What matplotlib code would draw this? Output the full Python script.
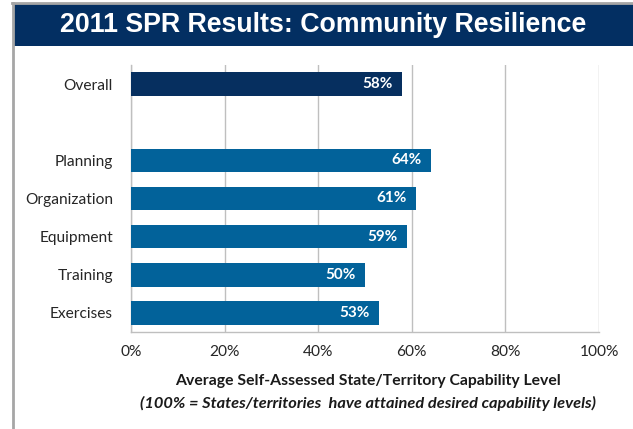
import matplotlib
matplotlib.use("Agg")
import matplotlib.pyplot as plt
from matplotlib.patches import Rectangle
from matplotlib.lines import Line2D

title = "2011 SPR Results: Community Resilience"
categories = ["Overall", "", "Planning", "Organization", "Equipment", "Training", "Exercises"]
values = [58, None, 64, 61, 59, 50, 53]
xticks = [0, 20, 40, 60, 80, 100]
xtick_labels = ["0%", "20%", "40%", "60%", "80%", "100%"]
xlabel1 = "Average Self-Assessed State/Territory Capability Level"
xlabel2 = "(100% = States/territories  have attained desired capability levels)"

navy = "#032f62"
overall_color = "#062f5f"
bar_color = "#02629a"
grid_color = "#bfbfbf"
text_font = ["Lato", "DejaVu Sans"]

fig = plt.figure(figsize=(6.33, 4.29), dpi=100)
W, H = 633, 429

# page border (left and top)
fig.add_artist(Line2D([12.5 / W, 12.5 / W], [0, 1 - 3 / H], transform=fig.transFigure,
                      color="#a6a6a6", lw=2))
fig.add_artist(Line2D([12 / W, 1], [1 - 3 / H, 1 - 3 / H], transform=fig.transFigure,
                      color="#a6a6a6", lw=2))
# title banner
fig.add_artist(Rectangle((14 / W, 1 - 46 / H), 1 - 14 / W, 42 / H, transform=fig.transFigure,
                         facecolor=navy, edgecolor="none"))
fig.text((14 + 633) / 2 / W, 1 - 25 / H, title, ha="center", va="center", color="white",
         fontsize=19.3, fontweight="bold", family=["Liberation Sans", "DejaVu Sans"])

ax = fig.add_axes([131 / W, 1 - 332 / H, (599 - 131) / W, (332 - 65) / H])
n = len(categories)
ypos = list(range(n))
for i, (c, v) in enumerate(zip(categories, values)):
    if v is None:
        continue
    col = overall_color if i == 0 else bar_color
    ax.barh(i, v, height=0.62, color=col, zorder=3)
    ax.text(v - 2.0, i, f"{v}%", ha="right", va="center", color="white",
            fontsize=11, fontweight="bold", family=text_font, zorder=4)

ax.set_xlim(0, 100)
ax.set_ylim(n - 0.5, -0.5)
ax.set_yticks(ypos)
ax.set_yticklabels(categories, fontsize=11.2, family=text_font, color="#262626")
ax.set_xticks(xticks)
ax.set_xticklabels(xtick_labels, fontsize=11.2, family=text_font, color="#262626")
ax.tick_params(axis="both", length=0)
ax.tick_params(axis="y", pad=13)
ax.tick_params(axis="x", pad=9)
ax.grid(axis="x", color=grid_color, lw=1, zorder=0)
for s in ["top", "right"]:
    ax.spines[s].set_visible(False)
for s in ["left", "bottom"]:
    ax.spines[s].set_color(grid_color)
    ax.spines[s].set_linewidth(1)

fig.text(368 / W, 1 - 381 / H, xlabel1, ha="center", va="center", fontsize=11.3,
         fontweight="bold", family=text_font, color="#1a1a1a")
fig.text(368 / W, 1 - 403 / H, xlabel2, ha="center", va="center", fontsize=11.8,
         fontweight="bold", style="italic", family=text_font, color="#1a1a1a")

fig.savefig("out.png", dpi=100)
